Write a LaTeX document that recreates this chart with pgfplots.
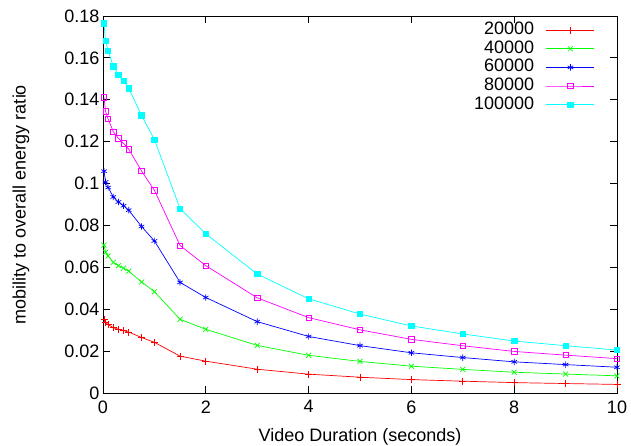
\documentclass[border=0pt]{standalone}
\usepackage{pgfplots}
\pgfplotsset{compat=1.18}
\usepackage{fontspec}
\setmainfont{Liberation Sans}
\newcommand{\ff}{\fontsize{18bp}{21bp}\selectfont}
\definecolor{gred}{RGB}{255,0,0}
\definecolor{ggreen}{RGB}{0,255,0}
\definecolor{gblue}{RGB}{0,0,255}
\definecolor{gmag}{RGB}{255,0,255}
\definecolor{gcyan}{RGB}{0,255,255}
\begin{document}
\begin{tikzpicture}[font=\ff]
\begin{axis}[
  at={(0,0)}, anchor=south west,
  scale only axis, width=514bp, height=377bp,
  xmin=0, xmax=10, ymin=0, ymax=0.18,
  xtick={0,2,...,10},
  ytick={0,0.02,...,0.18},
  scaled y ticks=false,
  yticklabel style={/pgf/number format/fixed,/pgf/number format/precision=2},
  xticklabel style={yshift=-4bp},
  /pgf/number format/assume math mode=true,
  tick label style={font=\ff},
  label style={font=\ff},
  tick align=inside,
  major tick length=7bp,
  xtick pos=both, ytick pos=both,
  axis line style={line width=0.8bp},
  every tick/.style={line width=0.8bp,black},
  xlabel={Video Duration (seconds)},
  ylabel={mobility to overall energy ratio},
  xlabel style={at={(axis description cs:0.5,-0.1167)},anchor=center},
  ylabel style={at={(axis description cs:-0.1595,0.5)},anchor=center,rotate=0},
  legend style={draw=none, fill=none, font=\ff, at={(axis cs:9.572,0.1769)}, anchor=north east,
    legend cell align=right, row sep=3.6bp, inner sep=0pt,
    nodes={inner sep=0pt, text height=12bp, text depth=3bp},
    /tikz/every odd column/.append style={column sep=12bp}},
  legend plot pos=right,
  legend image code/.code={\draw[mark repeat=2,mark phase=2] plot coordinates {(0bp,0bp)(24bp,0bp)(48bp,0bp)};},
  every axis plot/.append style={line width=0.7bp},
]
\addplot[gred, mark=+, mark size=3.5bp] coordinates {
(0.02,0.0353)(0.05,0.0336)(0.1,0.0327)(0.2,0.0312)(0.3,0.0304)(0.4,0.0298)(0.5,0.0291)(0.75,0.0265)(1,0.0242)(1.5,0.0176)(2,0.0152)(3,0.01136)(4,0.0090)(5,0.00754)(6,0.0064)(7,0.00564)(8,0.00496)(9,0.00452)(10,0.0041)};
\addlegendentry{20000}
\addplot[ggreen, mark=x, mark size=3.5bp] coordinates {
(0.02,0.0706)(0.05,0.0672)(0.1,0.0654)(0.2,0.0624)(0.3,0.0608)(0.4,0.0596)(0.5,0.0582)(0.75,0.0530)(1,0.0484)(1.5,0.0352)(2,0.0304)(3,0.02272)(4,0.0180)(5,0.01508)(6,0.0128)(7,0.01128)(8,0.00992)(9,0.00904)(10,0.0082)};
\addlegendentry{40000}
\addplot[gblue, mark=asterisk, mark size=3.2bp] coordinates {
(0.02,0.1059)(0.05,0.1008)(0.1,0.0981)(0.2,0.0936)(0.3,0.0912)(0.4,0.0894)(0.5,0.0873)(0.75,0.0795)(1,0.0726)(1.5,0.0528)(2,0.0456)(3,0.03408)(4,0.0270)(5,0.02262)(6,0.0192)(7,0.01692)(8,0.01488)(9,0.01356)(10,0.0123)};
\addlegendentry{60000}
\addplot[gmag, mark=square, mark size=2.7bp] coordinates {
(0.02,0.1412)(0.05,0.1344)(0.1,0.1308)(0.2,0.1248)(0.3,0.1216)(0.4,0.1192)(0.5,0.1164)(0.75,0.1060)(1,0.0968)(1.5,0.0704)(2,0.0608)(3,0.04544)(4,0.0360)(5,0.03016)(6,0.0256)(7,0.02256)(8,0.01984)(9,0.01808)(10,0.0164)};
\addlegendentry{80000}
\addplot[gcyan, mark=square*, mark size=2.7bp] coordinates {
(0.02,0.1765)(0.05,0.1680)(0.1,0.1635)(0.2,0.1560)(0.3,0.1520)(0.4,0.1490)(0.5,0.1455)(0.75,0.1325)(1,0.1210)(1.5,0.0880)(2,0.0760)(3,0.0568)(4,0.0450)(5,0.0377)(6,0.0320)(7,0.0282)(8,0.0248)(9,0.0226)(10,0.0205)};
\addlegendentry{100000}
\end{axis}
\pgfresetboundingbox
\path[use as bounding box] (-103bp,-53bp) rectangle (528bp,393bp);
\end{tikzpicture}
\end{document}
